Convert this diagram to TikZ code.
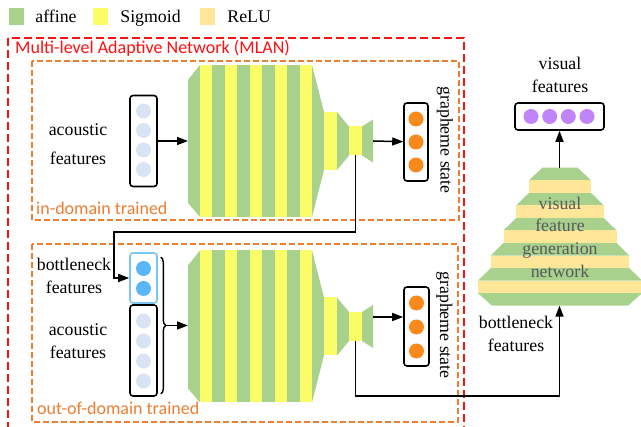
\documentclass[tikz,border=0pt]{standalone}
\usepackage{fontspec}
\setmainfont{Liberation Serif}
\newfontfamily\sansnote{Carlito}
\usepackage{xcolor}
\usepackage{tikz}
\definecolor{affinegreen}{RGB}{169,209,142}
\definecolor{sigmoidyellow}{RGB}{250,252,104}
\definecolor{relusand}{RGB}{255,230,153}
\definecolor{acousticgrey}{RGB}{218,227,243}
\definecolor{graphemeorange}{RGB}{250,137,28}
\definecolor{bottleblue}{RGB}{90,183,247}
\definecolor{bottleedge}{RGB}{125,197,245}
\definecolor{visualpurple}{RGB}{192,132,248}
\definecolor{domainorange}{RGB}{237,125,49}
\definecolor{mlanred}{RGB}{255,16,16}
\definecolor{labelgrey}{RGB}{89,89,89}
\usetikzlibrary{arrows.meta,positioning,decorations.pathreplacing,calc}

% affine/sigmoid stack; #1 = prefix of its coordinates, #2 = vertical centre
\newcommand{\dnnstack}[2]{%
  \fill[affinegreen] (188,#2-61) -- (200,#2-76) -- (200,#2+76) -- (188,#2+62) -- cycle;
  \foreach \i in {0,2,...,8}
    \fill[sigmoidyellow] (200+\i*12.45,#2-76) rectangle ++(12.45,152);
  \foreach \i in {1,3,...,7}
    \fill[affinegreen] (200+\i*12.45,#2-76) rectangle ++(12.45,152);
  \fill[affinegreen] (312,#2-76) -- (324,#2-29) -- (324,#2+29) -- (312,#2+76) -- cycle;
  \fill[sigmoidyellow] (324,#2-29) rectangle (337,#2+29);
  \fill[affinegreen] (337,#2-29) -- (349,#2-14.5) -- (349,#2+14.5) -- (337,#2+29) -- cycle;
  \fill[sigmoidyellow] (349,#2-14.5) rectangle (362,#2+14.5);
  \fill[affinegreen] (362,#2-14.5) -- (373,#2-21.5) -- (373,#2+21.5) -- (362,#2+14.5) -- cycle;
  \coordinate (#1-in) at (188,#2);
  \coordinate (#1-out) at (373,#2);
  \coordinate (#1-tap) at (355.5,#2+14.5);
}

\begin{document}
\begin{tikzpicture}[
    x=1pt, y=-1pt,
    vecbox/.style={draw, rounded corners=3pt, line width=1.6pt, minimum width=27pt, inner sep=0pt},
    unit/.style={circle, inner sep=0pt, minimum size=15pt},
    legsq/.style={rectangle, inner sep=0pt, minimum width=15pt, minimum height=17pt},
    lbl/.style={align=center, inner sep=0pt, font=\fontsize{17.8}{22.7}\selectfont},
    legtext/.style={lbl, text height=12pt, text depth=0pt},
    note/.style={inner sep=0pt, anchor=base west, font=\sansnote\fontsize{18}{20}\selectfont},
    domainbox/.style={draw=domainorange, line width=1.5pt, dash pattern=on 6pt off 3pt},
    mlanbox/.style={draw=mlanred, line width=1.8pt, dash pattern=on 8pt off 4pt},
    arrow/.style={->, >={Triangle[length=11pt,width=8pt]}, line width=1.5pt},
    brace/.style={decorate, decoration={brace, amplitude=5pt}, line width=1.4pt}
]
\clip (0,0) rectangle (641,427);

% legend
\node[legsq, fill=affinegreen] (legaff) at (16.5,16.5) {};
\node[legtext, right=11pt of legaff] (legafftxt) {affine};
\node[legsq, fill=sigmoidyellow] (legsig) at (100.5,16.5) {};
\node[legtext, right=12pt of legsig] (legsigtxt) {Sigmoid};
\node[legsq, fill=relusand] (legrelu) at (207.5,16.5) {};
\node[legtext, right=12pt of legrelu] (legrelutxt) {ReLU};

% MLAN frame and the two training domains
\draw[mlanbox] (8,38) rectangle (464,440);
\node[note, text=mlanred] (mlan) at (15,54) {Multi-level Adaptive Network (MLAN)};
\draw[domainbox] (32,61) rectangle (459,220);
\draw[domainbox] (32,244) rectangle (458,422);
\node[note, text=domainorange] (indom) at (36,215) {in-domain trained};
\node[note, text=domainorange] (outdom) at (37,415) {out-of-domain trained};

% in-domain network
\dnnstack{netA}{141}
\node[vecbox, minimum height=91pt] (acA) at (143.5,141) {};
\foreach \y [count=\n] in {111,130.5,150,169.5}
  \node[unit, fill=acousticgrey] (acA-\n) at (143.5,\y) {};
\node[lbl] (acAtxt) at (78,144.5) {acoustic\\[6.3pt]features};
\node[vecbox, minimum width=24pt, minimum height=78pt] (gsA) at (416,142) {};
\foreach \y [count=\n] in {119,142,165}
  \node[unit, fill=graphemeorange] (gsA-\n) at (416,\y) {};
\node[lbl, rotate=-90] (gsAtxt) at (445,140) {grapheme state};
\draw[arrow] (acA) -- (netA-in);
\draw[arrow] (netA-out) -- (gsA);

% out-of-domain network
\dnnstack{netB}{326.5}
\node[vecbox, draw=bottleedge, minimum height=50pt] (bnB) at (143.5,278) {};
\foreach \y [count=\n] in {268.5,288.5}
  \node[unit, fill=bottleblue] (bnB-\n) at (143.5,\y) {};
\node[vecbox, minimum height=91pt] (acB) at (143.5,350.5) {};
\foreach \y [count=\n] in {321,341,361,381}
  \node[unit, fill=acousticgrey] (acB-\n) at (143.5,\y) {};
\node[lbl] (bnBtxt) at (74,275.8) {bottleneck\\features};
\node[lbl] (acBtxt) at (78,341.5) {acoustic\\features};
\draw[brace] ($(bnB.north east)+(3,5)$) -- ($(acB.south east)+(3,-3)$);
\coordinate (brtip) at (165.5,325.5);
\node[vecbox, minimum width=25pt, minimum height=79pt] (gsB) at (416.5,326.5) {};
\foreach \y [count=\n] in {303,327,351}
  \node[unit, fill=graphemeorange] (gsB-\n) at (416.5,\y) {};
\node[lbl, rotate=-90] (gsBtxt) at (444.5,325) {grapheme state};
\draw[arrow] (brtip) -- (brtip -| netB-in);
\draw[arrow] ($(netB-out)+(0,-9.5)$) -- ($(netB-out -| gsB.west)+(0,-9.5)$);
\draw[arrow] (netA-tap) -- ++(0,76.5) -| ($(bnB.west)+(-15,0)$) -- (bnB.west);

% visual feature generation network
\foreach \k/\wa/\wb in {0/17.5/31, 2/31/43.75, 4/43.75/56.5, 6/56.5/69.25, 8/69.25/82, 10/82/68}
  \fill[affinegreen] (560-\wa,167.7+\k*12.55) -- (560+\wa,167.7+\k*12.55)
    -- (560+\wb,180.25+\k*12.55) -- (560-\wb,180.25+\k*12.55) -- cycle;
\foreach \k/\w in {1/31, 3/43.75, 5/56.5, 7/69.25, 9/82}
  \fill[relusand] (560-\w,167.7+\k*12.55) rectangle (560+\w,180.25+\k*12.55);
\coordinate (vfg-top) at (559.5,167.7);
\coordinate (vfg-bot) at (559.5,305.7);
\node[lbl, text=labelgrey] (vfgtxt) at (560,237) {visual\\feature\\generation\\network};
\node[vecbox, minimum width=89pt, minimum height=27pt] (visF) at (559.5,116.5) {};
\foreach \x [count=\n] in {531,549.7,568.3,587}
  \node[unit, fill=visualpurple] (visF-\n) at (\x,116.5) {};
\node[lbl] (visFtxt) at (560,74.8) {visual\\features};
\node[lbl] (bnCtxt) at (516,334) {bottleneck\\features};
\draw[arrow] (vfg-top) -- (visF);
\draw[arrow] (netB-tap) -- ++(0,55) -| (vfg-bot);

\end{tikzpicture}
\end{document}
